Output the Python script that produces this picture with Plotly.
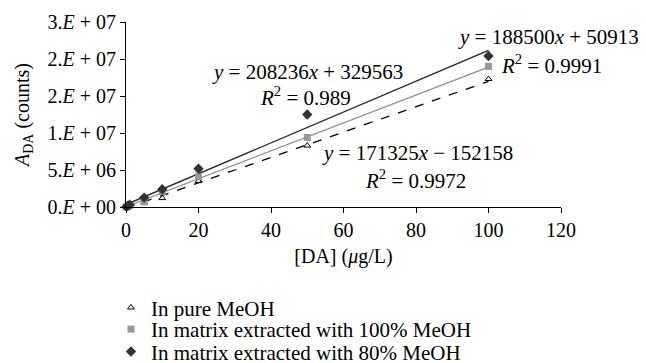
import plotly.graph_objects as go

conc = [0.1, 0.5, 1, 5, 10, 20, 50, 100]
pure_meoh = [0.0e6, 0.05e6, 0.1e6, 0.6e6, 1.2e6, 3.5e6, 8.3e6, 17.3e6]
matrix_100 = [0.02e6, 0.1e6, 0.2e6, 0.7e6, 2.1e6, 4.1e6, 9.4e6, 19.0e6]
matrix_80 = [0.05e6, 0.15e6, 0.3e6, 1.27e6, 2.4e6, 5.16e6, 12.5e6, 20.4e6]

fit_80 = (208236, 329563)
fit_100 = (188500, 50913)
fit_pure = (171325, -152158)
fit_x = [0, 100]

ytick_vals = [0, 5e6, 1e7, 1.5e7, 2e7, 2.5e7]
ytick_text = ["0.<i>E</i> + 00", "5.<i>E</i> + 06", "1.<i>E</i> + 07",
              "2.<i>E</i> + 07", "2.<i>E</i> + 07", "3.<i>E</i> + 07"]
xtick_vals = [0, 20, 40, 60, 80, 100, 120]

FONT = "Liberation Serif"

fig = go.Figure()

def line(fit, color, dash):
    m, b = fit
    return go.Scatter(x=fit_x, y=[m * v + b for v in fit_x], mode="lines",
                      line=dict(color=color, width=1.3, dash=dash),
                      showlegend=False, hoverinfo="skip", cliponaxis=False)

fig.add_trace(line(fit_pure, "black", "dash"))
fig.add_trace(line(fit_100, "#8c8c8c", "solid"))
fig.add_trace(line(fit_80, "#222222", "solid"))

fig.add_trace(go.Scatter(x=conc, y=pure_meoh, mode="markers", name="In pure MeOH",
                         legend="legend",
                         marker=dict(symbol="triangle-up-open", size=6, color="black",
                                     line=dict(width=1)), cliponaxis=False))
fig.add_trace(go.Scatter(x=conc, y=matrix_100, mode="markers",
                         name="In matrix extracted with 100% MeOH", legend="legend2",
                         marker=dict(symbol="square", size=7, color="#999999"),
                         cliponaxis=False))
fig.add_trace(go.Scatter(x=conc, y=matrix_80, mode="markers",
                         name="In matrix extracted with 80% MeOH", legend="legend3",
                         marker=dict(symbol="diamond", size=8, color="#333333"),
                         cliponaxis=False))

ann_font = dict(family=FONT, size=21, color="black")
def ann(x, y, text, anchor):
    fig.add_annotation(x=x, y=y, xref="x", yref="y", xanchor=anchor, yanchor="middle",
                       text=text, showarrow=False, font=ann_font)

ann(50, 18.3e6, "<i>y</i> = 208236<i>x</i> + 329563", "center")
ann(49.5, 15.0e6, "<i>R</i><sup>2</sup> = 0.989", "center")
ann(91.0, 23.0e6, "<i>y</i> = 188500<i>x</i> + 50913", "left")
ann(102.8, 19.2e6, "<i>R</i><sup>2</sup> = 0.9991", "left")
ann(53.6, 7.3e6, "<i>y</i> = 171325<i>x</i> − 152158", "left")
ann(65.3, 3.65e6, "<i>R</i><sup>2</sup> = 0.9972", "left")

def leg(y):
    return dict(x=-0.0345, y=y, xanchor="left", yanchor="middle",
                font=dict(family=FONT, size=21), itemwidth=30,
                bgcolor="rgba(0,0,0,0)")

fig.update_layout(
    width=638, height=355,
    margin=dict(l=118, r=85, t=14, b=156, autoexpand=False),
    paper_bgcolor="white", plot_bgcolor="white",
    font=dict(family=FONT, size=20, color="black"),
    xaxis=dict(range=[0, 120], tickvals=xtick_vals, showgrid=False, zeroline=False,
               showline=True, linecolor="black", linewidth=1, ticks="outside",
               ticklen=5, tickcolor="black", automargin=False,
               tickfont=dict(size=20),
               title=dict(text="[DA] (<i>μ</i>g/L)", standoff=8, font=dict(size=20))),
    yaxis=dict(range=[0, 2.5e7], tickvals=ytick_vals, ticktext=ytick_text,
               showgrid=False, zeroline=False, showline=True, linecolor="black",
               linewidth=1, ticks="outside", ticklen=5, tickcolor="black",
               automargin=False, tickfont=dict(size=20),
               title=dict(text="<i>A</i><sub>DA</sub> (counts)", standoff=12,
                          font=dict(size=20))),
    legend=leg(-0.545),
    legend2=leg(-0.662),
    legend3=leg(-0.783),
    showlegend=True,
)

fig.write_html("out.html")
